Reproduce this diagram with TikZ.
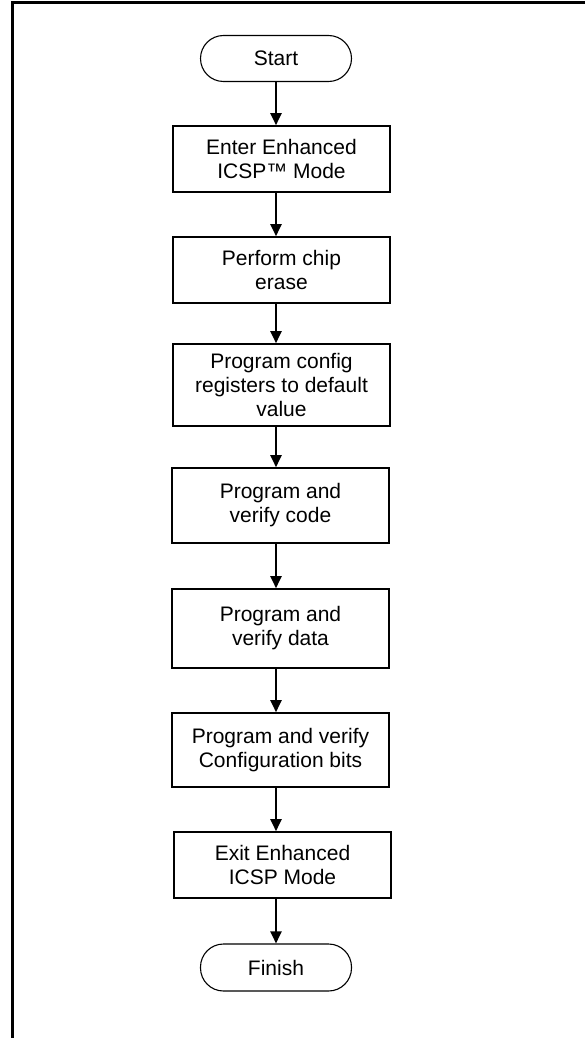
\documentclass[tikz,border=0pt]{standalone}
\usepackage{fontspec}
\setmainfont{Liberation Sans}
\usetikzlibrary{arrows.meta}
\begin{document}
\begin{tikzpicture}[x=1pt,y=-1pt,
  every node/.style={font=\fontsize{21}{24}\selectfont, align=center, inner sep=0pt},
  stepbox/.style={draw, line width=1.6pt, minimum width=217pt},
  terminal/.style={draw, line width=1.1pt, rounded corners=23pt,
                   minimum width=151pt, minimum height=46pt},
  flow/.style={line width=2pt, -{Triangle[length=12pt,width=11pt]}},
  frame/.style={line width=2.5pt}]
\useasboundingbox (0,0) rectangle (585,1038);

% page frame (open on the right and at the bottom)
\draw[frame] (12.5,1038) -- (12.5,2.5) -- (585,2.5);

% vertical axis that all connectors follow
\coordinate (axis) at (276,0);

% terminals and process steps
\node[terminal] (start) at (276,58.5) {Start};
\node[stepbox, minimum height=66pt] (enter) at (281.5,159) {Enter Enhanced\\ICSP™ Mode};
\node[stepbox, minimum height=66pt] (erase) at (281.5,270) {Perform chip\\erase};
\node[stepbox, minimum height=82pt] (config) at (281.5,385) {Program config\\registers to default\\value};
\node[stepbox, minimum height=75pt] (code) at (280.5,505.5) {Program and\\verify code};
\node[stepbox, minimum height=79pt] (data) at (280.5,628.5) {Program and\\verify data};
\node[stepbox, minimum height=74pt] (cfgbits) at (280.5,750) {Program and verify\\Configuration bits};
\node[stepbox, minimum height=66pt] (exit) at (282.5,865) {Exit Enhanced\\ICSP Mode};
\node[terminal, minimum height=47pt] (finish) at (276,967.5) {Finish};

% connectors
\draw[flow] (start.south) -- (enter.north -| axis);
\draw[flow] (enter.south -| axis) -- (erase.north -| axis);
\draw[flow] (erase.south -| axis) -- (config.north -| axis);
\draw[flow] (config.south -| axis) -- (code.north -| axis);
\draw[flow] (code.south -| axis) -- (data.north -| axis);
\draw[flow] (data.south -| axis) -- (cfgbits.north -| axis);
\draw[flow] (cfgbits.south -| axis) -- (exit.north -| axis);
\draw[flow] (exit.south -| axis) -- (finish.north);
\end{tikzpicture}
\end{document}
